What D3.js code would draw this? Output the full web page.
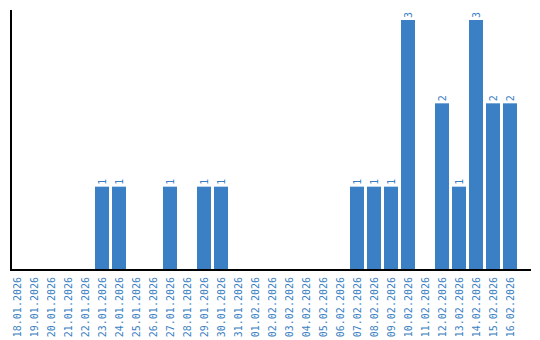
<!DOCTYPE html>
<html><head><meta charset="utf-8">
<script src="https://cdn.jsdelivr.net/npm/d3@7"></script>
<style>body{margin:0;background:#fff}svg{display:block}</style>
</head><body>
<svg id="c" width="540" height="340"></svg>
<script>
const categories = ["18.01.2026","19.01.2026","20.01.2026","21.01.2026","22.01.2026","23.01.2026","24.01.2026","25.01.2026","26.01.2026","27.01.2026","28.01.2026","29.01.2026","30.01.2026","31.01.2026","01.02.2026","02.02.2026","03.02.2026","04.02.2026","05.02.2026","06.02.2026","07.02.2026","08.02.2026","09.02.2026","10.02.2026","11.02.2026","12.02.2026","13.02.2026","14.02.2026","15.02.2026","16.02.2026"];
const values = [0,0,0,0,0,1,1,0,0,1,0,1,1,0,0,0,0,0,0,0,1,1,1,3,0,2,1,3,2,2];

const svg = d3.select("#c");
const barColor = "#3b7fc4", textColor = "#3a7fc2";
const font = "DejaVu Sans Mono, monospace";
const x = d3.scaleBand().domain(categories).range([10, 517]).paddingInner(3/17).paddingOuter(0);
const y = d3.scaleLinear().domain([0, 3]).range([270, 20]);

const data = categories.map((c,i)=>({c, v: values[i]}));

svg.selectAll("rect.bar").data(data.filter(d=>d.v>0)).join("rect")
  .attr("class","bar")
  .attr("x", d=>x(d.c)).attr("width", x.bandwidth())
  .attr("y", d=>y(d.v)).attr("height", d=>y(0)-y(d.v))
  .attr("fill", barColor);

svg.selectAll("text.val").data(data.filter(d=>d.v>0)).join("text")
  .attr("class","val")
  .attr("transform", d=>`translate(${x(d.c)+x.bandwidth()/2},${y(d.v)-2}) rotate(-90)`)
  .attr("dy","0.35em")
  .attr("text-anchor","start")
  .attr("font-family",font).attr("font-size","10px")
  .attr("fill", textColor)
  .text(d=>d.v);

// axes
const xAxis = d3.axisBottom(x).tickSize(0).tickPadding(0);
const gx = svg.append("g").attr("transform","translate(0,270)").call(xAxis);
gx.select(".domain").remove();
gx.selectAll("text")
  .attr("transform", "translate(0,7) rotate(-90)")
  .attr("x",0).attr("y",0).attr("dy","0.35em")
  .attr("text-anchor","end")
  .attr("font-family",font).attr("font-size","10px")
  .attr("fill", textColor);

svg.append("line").attr("x1",11).attr("x2",11).attr("y1",10).attr("y2",271)
  .attr("stroke","#000").attr("stroke-width",2);
svg.append("line").attr("x1",10).attr("x2",531).attr("y1",270).attr("y2",270)
  .attr("stroke","#000").attr("stroke-width",2);
</script>
</body></html>
